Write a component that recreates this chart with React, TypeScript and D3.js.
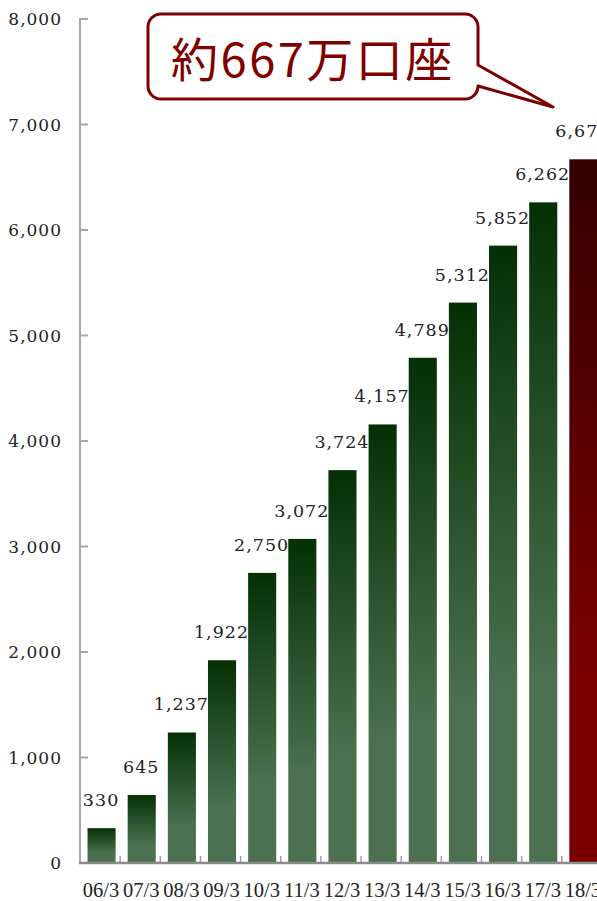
import * as d3 from "d3";

const categories = ["06/3", "07/3", "08/3", "09/3", "10/3", "11/3", "12/3", "13/3", "14/3", "15/3", "16/3", "17/3", "18/3"];
const accounts = [330, 645, 1237, 1922, 2750, 3072, 3724, 4157, 4789, 5312, 5852, 6262, 6670];
const yTicks = [0, 1000, 2000, 3000, 4000, 5000, 6000, 7000, 8000];
const calloutText = "約667万口座";

const W = 597;
const H = 901;

export default function App() {
  const left = 80;
  const bottom = 863;
  const top = 19;
  const step = 40.15;

  const y = d3.scaleLinear().domain([0, 8000]).range([bottom, top]);
  const x = d3
    .scaleBand<string>()
    .domain(categories)
    .range([left, left + step * categories.length])
    .paddingInner(0.3)
    .paddingOuter(0.15);

  const fmt = d3.format(",");
  const last = categories.length - 1;

  // callout box
  const bx0 = 148, bx1 = 478, by0 = 14, by1 = 99, r = 13;
  const tip: [number, number] = [553, 107];
  const p = d3.path();
  p.moveTo(bx0 + r, by0);
  p.lineTo(bx1 - r, by0);
  p.arcTo(bx1, by0, bx1, by0 + r, r);
  p.lineTo(bx1, 65);
  p.lineTo(tip[0], tip[1]);
  p.lineTo(bx1, 86);
  p.lineTo(bx1, by1 - r);
  p.arcTo(bx1, by1, bx1 - r, by1, r);
  p.lineTo(bx0 + r, by1);
  p.arcTo(bx0, by1, bx0, by1 - r, r);
  p.lineTo(bx0, by0 + r);
  p.arcTo(bx0, by0, bx0 + r, by0, r);
  p.closePath();

  return (
    <svg width={W} height={H} style={{ position: "absolute", left: 0, top: 0, background: "#fff" }}>
      <defs>
        <linearGradient id="gGreen" x1="0" y1="0" x2="0" y2="1">
          <stop offset="0" stopColor="#043004" />
          <stop offset="0.72" stopColor="#4b7150" />
          <stop offset="1" stopColor="#4b7150" />
        </linearGradient>
        <linearGradient id="gRed" x1="0" y1="0" x2="0" y2="1">
          <stop offset="0" stopColor="#340000" />
          <stop offset="0.72" stopColor="#7a0000" />
          <stop offset="1" stopColor="#7a0000" />
        </linearGradient>
      </defs>

      {/* bars */}
      {categories.map((c, i) => (
        <rect
          key={c}
          x={(x(c) ?? 0) + 1.5}
          y={y(accounts[i])}
          width={x.bandwidth()}
          height={bottom - y(accounts[i])}
          fill={i === last ? "url(#gRed)" : "url(#gGreen)"}
        />
      ))}

      {/* y axis */}
      <line x1={left} x2={left} y1={top - 1} y2={bottom} stroke="#a6a6a6" strokeWidth={2} />
      {yTicks.map((t) => (
        <g key={t}>
          <line x1={left} x2={left + 8} y1={y(t)} y2={y(t)} stroke="#a6a6a6" strokeWidth={2} />
          <text
            x={62}
            y={y(t)}
            dy="0.36em"
            textAnchor="end"
            fontFamily="DejaVu Serif"
            fontSize={17}
            letterSpacing={1}
            fill="#222"
          >
            {fmt(t)}
          </text>
        </g>
      ))}

      {/* x axis */}
      {categories.slice(1).map((c) => {
        const bx = (x(c) ?? 0) - x.step() * 0.15;
        return <line key={c} x1={bx} x2={bx} y1={bottom} y2={bottom - 7} stroke="#a0a0a0" strokeWidth={1.5} />;
      })}
      <line x1={left - 1} x2={W} y1={bottom} y2={bottom} stroke="#8a8a8a" strokeWidth={2.5} />
      {categories.map((c) => (
        <text
          key={c}
          x={(x(c) ?? 0) + x.bandwidth() / 2 + 1}
          y={897}
          textAnchor="middle"
          fontFamily="Liberation Serif"
          fontSize={20.5}
          fill="#222"
        >
          {c}
        </text>
      ))}

      {/* value labels */}
      {categories.map((c, i) => (
        <text
          key={c}
          x={(x(c) ?? 0) + x.bandwidth() / 2 + 1}
          y={y(accounts[i]) - 22}
          textAnchor="middle"
          fontFamily="DejaVu Serif"
          fontSize={17.5}
          letterSpacing={1}
          fill="#222"
        >
          {fmt(accounts[i])}
        </text>
      ))}

      {/* callout */}
      <path d={p.toString()} fill="#fff" stroke="#7d0000" strokeWidth={3} strokeLinejoin="round" />
      <text
        x={(bx0 + bx1) / 2}
        y={77}
        textAnchor="middle"
        fontFamily="Noto Sans CJK JP"
        fontSize={47}
        letterSpacing={2.5}
        fill="#800000"
      >
        {calloutText}
      </text>
    </svg>
  );
}
